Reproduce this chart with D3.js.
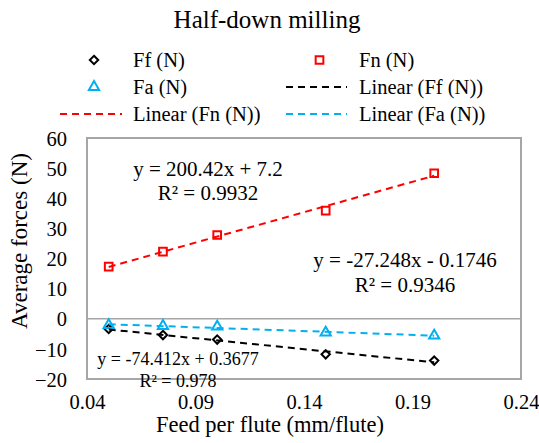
<!DOCTYPE html>
<html><head><meta charset="utf-8">
<script src="https://cdn.jsdelivr.net/npm/d3@7"></script>
<style>
body{margin:0;background:#fff;}
text{font-family:"Liberation Serif",serif;}
</style></head>
<body><svg id="c" width="539" height="443" font-family="Liberation Serif"></svg>
<script>
const feed = [0.05, 0.075, 0.1, 0.15, 0.2];
const Ff = [-3.4, -5.4, -6.9, -11.8, -13.9];
const Fn = [17.3, 22.3, 27.8, 35.9, 48.3];
const Fa = [-2.1, -2.4, -2.6, -4.6, -5.6];
const xTicks = [0.04, 0.09, 0.14, 0.19, 0.24];
const yTicks = [-20, -10, 0, 10, 20, 30, 40, 50, 60];
const eqFn = ["y = 200.42x + 7.2", "R² = 0.9932"];
const eqFa = ["y = -27.248x - 0.1746", "R² = 0.9346"];
const eqFf = ["y = -74.412x + 0.3677", "R² = 0.978"];

const FONT = "Liberation Serif";
const svg = d3.select("#c");
const L=87, R=521, T=138, B=379;
const x = d3.scaleLinear().domain([0.04,0.24]).range([L,R]);
const y = d3.scaleLinear().domain([-20,60]).range([B,T]);
const grey="#a6a6a6", red="#ff0000", blue="#00b0f0", black="#000";

function txt(xx, yy, s, fs, anchor){
  return svg.append("text").attr("x",xx).attr("y",yy).attr("font-family",FONT)
    .attr("font-size",fs).attr("text-anchor",anchor||"start").attr("fill","#000").text(s);
}

txt(267, 28, "Half-down milling", 25, "middle");

// plot border and zero line
svg.append("rect").attr("x",L).attr("y",T).attr("width",R-L).attr("height",B-T)
  .attr("fill","none").attr("stroke",grey).attr("stroke-width",2);
svg.append("line").attr("x1",L).attr("x2",R).attr("y1",y(0)).attr("y2",y(0))
  .attr("stroke",grey).attr("stroke-width",1.5);

// axes
const ya = svg.append("g").attr("transform",`translate(${L-20},0)`)
  .call(d3.axisLeft(y).tickValues(yTicks).tickSize(0).tickPadding(0).tickFormat(d3.format("d")));
ya.attr("font-family",FONT);
ya.select(".domain").remove();
ya.selectAll("text").attr("font-size",20.5).attr("font-family",FONT).attr("fill","#000")
  .attr("dy","0.35em").attr("x",0);
const xa = svg.append("g").attr("transform",`translate(0,${B+15})`)
  .call(d3.axisBottom(x).tickValues(xTicks).tickSize(0).tickPadding(0).tickFormat(d3.format(".2f")));
xa.attr("font-family",FONT);
xa.select(".domain").remove();
xa.selectAll("text").attr("font-size",20.5).attr("font-family",FONT).attr("fill","#000")
  .attr("dy","0.72em");

txt(0, 0, "Average forces (N)", 23, "middle").attr("transform","translate(27,241) rotate(-90)");
txt(270, 432, "Feed per flute (mm/flute)", 22.5, "middle");

function fit(xs, ys){
  const n=xs.length, mx=d3.mean(xs), my=d3.mean(ys);
  let sxy=0,sxx=0; for(let i=0;i<n;i++){sxy+=(xs[i]-mx)*(ys[i]-my); sxx+=(xs[i]-mx)**2;}
  const m=sxy/sxx; return {m, b:my-m*mx};
}
const sym = {
  diamond: d3.symbol().type(d3.symbolDiamond2).size(45),
  square: d3.symbol().type(d3.symbolSquare2).size(75),
  triangle: d3.symbol().type(d3.symbolTriangle2).size(75)
};
const series = [
  {name:"Ff (N)", vals:Ff, color:black, s:"diamond"},
  {name:"Fn (N)", vals:Fn, color:red, s:"square"},
  {name:"Fa (N)", vals:Fa, color:blue, s:"triangle"}
];
series.forEach(se=>{
  svg.append("g").selectAll("path").data(feed).join("path")
    .attr("transform",(d,i)=>`translate(${x(d)},${y(se.vals[i])})`)
    .attr("d",sym[se.s]()).attr("fill","none").attr("stroke",se.color).attr("stroke-width",2);
});
series.forEach(se=>{
  const f=fit(feed,se.vals), x0=d3.min(feed), x1=d3.max(feed);
  svg.append("line").attr("x1",x(x0)).attr("x2",x(x1))
    .attr("y1",y(f.m*x0+f.b)).attr("y2",y(f.m*x1+f.b))
    .attr("stroke",se.color).attr("stroke-width",2).attr("stroke-dasharray","7,5");
});

// equations
function eq(lines, cx, by, fs, gap){
  lines.forEach((t,i)=>txt(cx, by+i*gap, t, fs, "middle"));
}
eq(eqFn, 208, 176, 21, 24);
eq(eqFa, 405, 267, 21, 25);
eq(eqFf, 178, 365, 18, 22);

// legend
const legend = [
  {label:"Ff (N)", type:"marker", s:"diamond", color:black, col:0, row:0},
  {label:"Fn (N)", type:"marker", s:"square", color:red, col:1, row:0},
  {label:"Fa (N)", type:"marker", s:"triangle", color:blue, col:0, row:1},
  {label:"Linear (Ff (N))", type:"line", color:black, col:1, row:1},
  {label:"Linear (Fn (N))", type:"line", color:red, col:0, row:2},
  {label:"Linear (Fa (N))", type:"line", color:blue, col:1, row:2}
];
const colX=[[60,122,133],[286,347,359]], rowY=[60,87,114];
legend.forEach(d=>{
  const [a,b,tx]=colX[d.col], yy=rowY[d.row];
  if(d.type==="marker"){
    svg.append("path").attr("transform",`translate(${(a+b)/2+3},${yy})`).attr("d",sym[d.s]())
      .attr("fill","none").attr("stroke",d.color).attr("stroke-width",2);
  } else {
    svg.append("line").attr("x1",a).attr("x2",b).attr("y1",yy).attr("y2",yy)
      .attr("stroke",d.color).attr("stroke-width",2).attr("stroke-dasharray","7,5");
  }
  txt(tx, yy, d.label, 20.5, "start").attr("dy","0.35em");
});
</script></body></html>
